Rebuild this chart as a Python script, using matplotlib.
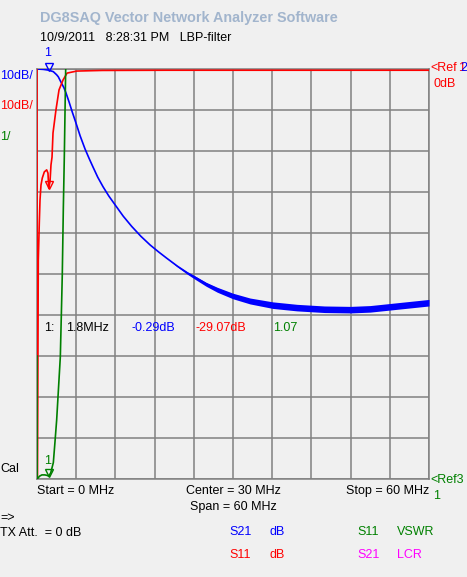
import matplotlib
matplotlib.use("Agg")
import matplotlib.pyplot as plt
import matplotlib.transforms as mtransforms
import numpy as np

# S21 (blue), dB, 10 dB/div, ref 0 dB at top
blue_f = [0, 1.0, 1.8, 2.5, 3.0, 3.26, 3.67, 4.13, 4.44, 4.9, 5.4, 5.97, 6.6, 7.35,
          8.0, 8.57, 9.3, 10.1, 11.0, 11.94, 13.2, 14.5, 15.9, 17.3, 18.6, 19.9,
          21.5, 23.0, 24.2, 25.9, 27.6, 30.0, 32.6, 36.1, 39.8, 44.0, 48.0, 51.0,
          54.0, 57.0, 60]
blue_db = [0, -0.1, -0.29, -0.65, -1.4, -1.9, -3.2, -4.6, -5.85, -8.0, -10.5, -13.2, -16.3, -19.5,
           -21.9, -23.9, -26.4, -28.7, -31.0, -33.1, -35.9, -38.4, -40.8, -42.9, -44.6, -46.2,
           -48.1, -49.7, -50.8, -52.4, -53.7, -55.2, -56.4, -57.4, -58.0, -58.4, -58.5, -58.3,
           -57.8, -57.3, -56.8]
# half-width of the noise band on the S21 trace, dB
blue_noise = [0, 0, 0, 0, 0, 0, 0, 0, 0, 0, 0, 0, 0, 0,
              0, 0, 0, 0, 0, 0, 0, 0, 0, 0, 0, 0,
              0.2, 0.35, 0.5, 0.6, 0.75, 0.85, 0.9, 1.0, 1.0, 1.0, 1.0, 1.0,
              1.0, 1.0, 1.0]

# S11 (red), dB, 10 dB/div, ref 0 dB at top
red_f = [0, 0.05, 0.2, 0.35, 0.46, 0.61, 0.81, 1.12, 1.48, 1.68, 1.8, 1.99, 2.14,
         2.3, 2.45, 2.9, 3.37, 3.98, 4.6, 6.1, 10, 20, 30, 40, 50, 60]
red_db = [0, -100, -46.6, -37.6, -32.0, -28.3, -26.6, -25.1, -24.6, -25.4, -29.07, -27.5, -23.4,
          -21.5, -15.6, -10.0, -5.1, -2.7, -1.0, -0.5, -0.35, -0.3, -0.3, -0.3, -0.3, -0.3]

# S11 VSWR (green), 1/div, ref 1 at bottom
green_f = [0, 0.02, 0.4, 0.75, 1.2, 1.5, 1.8, 2.1, 2.5, 2.75, 3.01, 3.57, 3.78, 3.87,
           4.03, 4.18, 4.39, 4.6]
green_vswr = [4.0, 1.0, 1.07, 1.1, 1.1, 1.09, 1.07, 1.15, 1.4, 1.9, 2.44, 3.98, 5.37, 5.98,
              7.6, 8.85, 11.0, 12.5]

W, H = 467, 577
BG = "#f0f0f0"
GRID = "#808080"
BLUE = "#0000ff"
RED = "#ff0000"
GREEN = "#008000"
MAG = "#ff00ff"
FONT = "Liberation Sans"

fig = plt.figure(figsize=(W / 100, H / 100), dpi=100, facecolor=BG)
ax = fig.add_axes([37 / W, (H - 479) / H, 392 / W, 410 / H])
ax.set_facecolor(BG)
ax.set_xlim(0, 60)
ax.set_ylim(0, 10)
ax.set_xticks(np.arange(0, 61, 6))
ax.set_yticks(np.arange(0, 11, 1))
ax.tick_params(length=0, labelbottom=False, labelleft=False)
ax.grid(True, color=GRID, linewidth=1.1)
for s in ax.spines.values():
    s.set_color(GRID)
    s.set_linewidth(1.1)


def db_div(vals):
    return [10 + v / 10.0 for v in vals]


bf = np.array(blue_f)
by = np.array(db_div(blue_db))
bn = np.array(blue_noise) / 10.0
ax.fill_between(bf, by - bn, by + bn * 0.6, color=BLUE, linewidth=0, zorder=3)
ax.plot(bf, by, color=BLUE, linewidth=1.2, zorder=3)
ax.plot(red_f, db_div(red_db), color=RED, linewidth=1.2, zorder=4)
ax.plot(green_f, [v - 1 for v in green_vswr], color=GREEN, linewidth=1.2, zorder=5)

# markers (open down-triangles with tip on the trace)
up = mtransforms.offset_copy(ax.transData, fig=fig, x=0, y=3.5, units="dots")
mk = dict(marker="v", markersize=6, markerfacecolor="none", markeredgewidth=1.0, zorder=6)
ax.plot(1.8, 10 - 0.029, color=BLUE, transform=up, clip_on=False, **mk)
ax.plot(1.8, db_div([-29.07])[0], color=RED, transform=up, clip_on=False, **mk)
ax.plot(1.8, 0.07, color=GREEN, transform=up, clip_on=False, **mk)


def px_text(x, y, s, color="black", ha="left", size=9, weight="normal"):
    fig.text(x / W, 1 - y / H, s, color=color, ha=ha, va="center", fontsize=size,
             fontweight=weight, family=FONT)


px_text(48, 53, "1", BLUE, ha="center")
px_text(48, 461, "1", GREEN, ha="center")

px_text(40, 18, "DG8SAQ Vector Network Analyzer Software", "#a2b5cd", size=10.4, weight="bold")
px_text(40, 38, "10/9/2011   8:28:31 PM   LBP-filter")

px_text(0, 76, "10dB/", BLUE)
px_text(0, 106, "10dB/", RED)
px_text(0, 137, "1/", GREEN)
px_text(0, 469, "Cal")

px_text(430, 68, "<Ref", RED)
px_text(458, 68, "1", RED)
px_text(460, 68, "2", BLUE)
px_text(433, 84, "0dB", RED)
px_text(430, 480, "<Ref3", GREEN)
px_text(433, 496, "1", GREEN)

px_text(44, 328, "1:")
px_text(66, 328, "1.8MHz")
px_text(132, 328, "-0.29dB", BLUE)
px_text(196, 328, "-29.07dB", RED)
px_text(273, 328, "1.07", GREEN)

px_text(37, 491, "Start = 0 MHz")
px_text(233, 491, "Center = 30 MHz", ha="center")
px_text(429, 491, "Stop = 60 MHz", ha="right")
px_text(233, 507, "Span = 60 MHz", ha="center")

px_text(0, 518, "=>")
px_text(0, 533, "TX Att.  = 0 dB")

px_text(229, 532, "S21", BLUE)
px_text(269, 532, "dB", BLUE)
px_text(357, 532, "S11", GREEN)
px_text(397, 532, "VSWR", GREEN)
px_text(229, 555, "S11", RED)
px_text(269, 555, "dB", RED)
px_text(357, 555, "S21", MAG)
px_text(397, 555, "LCR", MAG)

fig.savefig("out.png", dpi=100, facecolor=BG)
